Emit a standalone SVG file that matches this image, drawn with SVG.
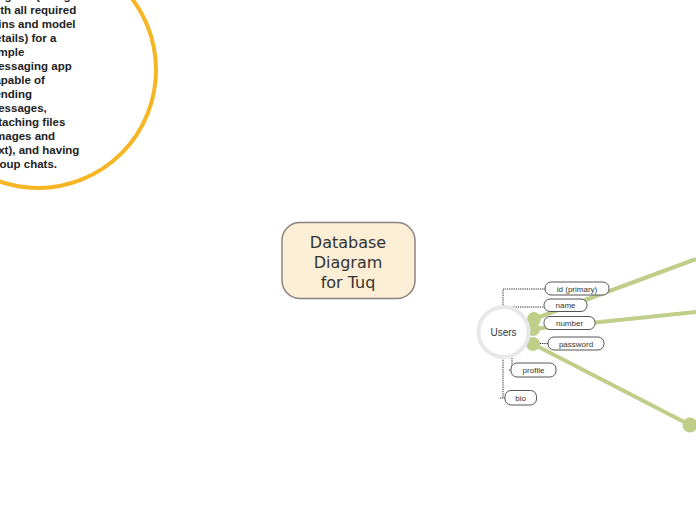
<svg xmlns="http://www.w3.org/2000/svg" width="696" height="520" viewBox="0 0 696 520">
<style>
.note{font-family:"Liberation Sans",Arial,sans-serif;font-weight:bold;font-size:11.5px;fill:#222}
.title{font-family:"DejaVu Sans",sans-serif;font-size:16px;fill:#333;text-anchor:middle}
.fld rect{fill:#fff;stroke:#555;stroke-width:1}
.fld text{font-family:"Liberation Sans",Arial,sans-serif;font-size:8px;fill:#333;text-anchor:middle}
.dot{fill:none;stroke:#222;stroke-width:1;stroke-dasharray:1.2 1}
.gl{stroke:#bfcf8a;stroke-width:4;fill:none}
.gd{fill:#bfcf8a}
</style>
<rect width="696" height="520" fill="#fff"/>
<g id="note">
<circle cx="38" cy="70" r="118" fill="#fff" stroke="#f6b624" stroke-width="4"/>
<text class="note" x="-12" y="0">diagram (along</text>
<text class="note" x="-12" y="14">with all required</text>
<text class="note" x="-12" y="28">joins and model</text>
<text class="note" x="-12" y="42">details) for a</text>
<text class="note" x="-12" y="56">simple</text>
<text class="note" x="-12" y="70">messaging app</text>
<text class="note" x="-12" y="84">capable of</text>
<text class="note" x="-12" y="98">sending</text>
<text class="note" x="-12" y="112">messages,</text>
<text class="note" x="-12" y="126">attaching files</text>
<text class="note" x="-12" y="140">(images and</text>
<text class="note" x="-12" y="154">text), and having</text>
<text class="note" x="-12" y="168">group chats.</text>
</g>
<g id="root">
<rect x="282" y="222.5" width="133" height="76" rx="18" fill="#fcefd5" stroke="#8a8580" stroke-width="1.5"/>
<text class="title" x="348" y="248">Database</text>
<text class="title" x="348" y="268">Diagram</text>
<text class="title" x="348" y="288">for Tuq</text>
</g>
<g id="connectors">
<path class="dot" d="M503,307 V289 H545"/>
<path class="dot" d="M512,310 V307 H544"/>
<path class="dot" d="M540,343.5 H548"/>
<path class="dot" d="M512,358 V370 M509,370 H512"/>
<path class="dot" d="M503,358 V398 M500,398 H505"/>
</g>
<g id="links">
<path class="gl" d="M534,319 L696,259"/>
<path class="gl" d="M533,329 L696,312"/>
<path class="gl" d="M533,344 L690,425"/>
<circle class="gd" cx="534" cy="319" r="7"/>
<circle class="gd" cx="533" cy="329" r="7"/>
<circle class="gd" cx="533" cy="344" r="7"/>
<circle class="gd" cx="690" cy="425" r="7.5"/>
</g>
<g id="users">
<circle cx="503.5" cy="332" r="25" fill="#fff" stroke="#e8e8e8" stroke-width="4"/>
<text x="503.5" y="335.5" font-family="Liberation Sans,Arial,sans-serif" font-size="10" fill="#333" text-anchor="middle">Users</text>
</g>
<g id="f-id" class="fld"><rect x="545" y="282" width="64" height="13" rx="6"/><text x="577" y="291.5">id  (primary)</text></g>
<g id="f-name" class="fld"><rect x="544" y="299" width="43" height="12.5" rx="6"/><text x="565.5" y="308">name</text></g>
<g id="f-number" class="fld"><rect x="544" y="316.5" width="51" height="13" rx="6"/><text x="569.5" y="326">number</text></g>
<g id="f-password" class="fld"><rect x="548" y="337" width="56" height="13" rx="6"/><text x="576" y="346.5">password</text></g>
<g id="f-profile" class="fld"><rect x="511" y="363" width="45" height="14" rx="6"/><text x="533.5" y="373">profile</text></g>
<g id="f-bio" class="fld"><rect x="505" y="390.5" width="31.5" height="14.5" rx="6"/><text x="520.7" y="400.7">bio</text></g>
</svg>
